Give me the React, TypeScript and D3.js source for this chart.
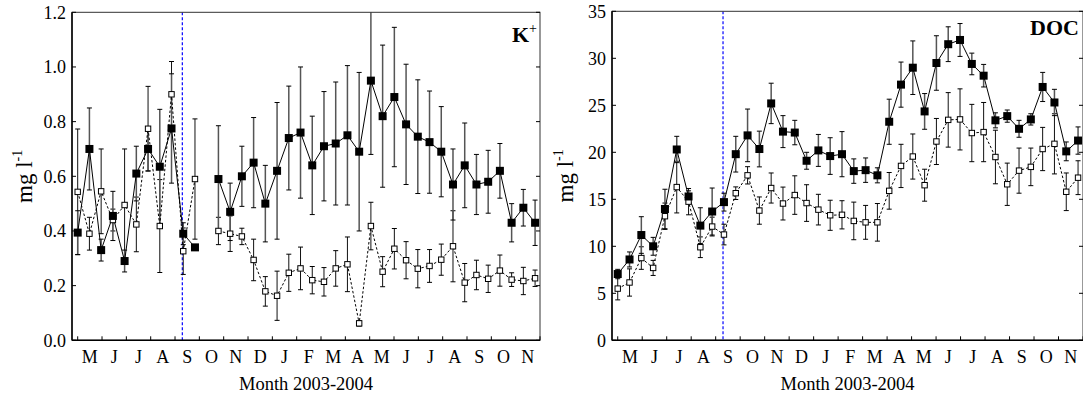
import React from "react";
import * as d3 from "d3";

// month labels, May 2003 .. Nov 2004
const months = ["M", "J", "J", "A", "S", "O", "N", "D", "J", "F", "M", "A", "M", "J", "J", "A", "S", "O", "N"];
const sampleStep = 0.482; // months between two samplings
const splitMonth = 4.3; // dashed blue line

// K+ (mg l-1), null = not sampled
const kFilled = [0.394, 0.7, 0.33, 0.455, 0.29, 0.61, 0.7, 0.635, 0.775, 0.39, 0.34, null, 0.59, 0.47, 0.6, 0.65, 0.5, 0.62, 0.74, 0.76,
  0.64, 0.71, 0.72, 0.75, 0.69, 0.95, 0.82, 0.89, 0.79, 0.745, 0.725, 0.69, 0.57, 0.64, 0.57, 0.58, 0.62, 0.43, 0.485, 0.43];
const kFilledSd = [0.08, 0.15, 0.04, 0.09, 0.04, 0.1, 0.08, 0.21, 0.2, 0.04, 0, null, 0.195, 0.105, 0.11, 0.165, 0.14, 0.25, 0.19, 0.24,
  0.18, 0.2, 0.225, 0.255, 0.29, 0.27, 0.26, 0.255, 0.22, 0.208, 0.187, 0.165, 0.13, 0.155, 0.11, 0.115, 0.1, 0.07, 0.067, 0.083];
const kOpen = [0.543, 0.39, 0.545, 0.44, 0.495, 0.424, 0.774, 0.418, 0.9, 0.326, 0.59, null, 0.4, 0.39, 0.38, 0.294, 0.179, 0.163, 0.247, 0.263,
  0.22, 0.214, 0.263, 0.278, 0.062, 0.418, 0.251, 0.335, 0.293, 0.262, 0.272, 0.295, 0.344, 0.211, 0.239, 0.225, 0.255, 0.222, 0.217, 0.227];
const kOpenSd = [0.23, 0.06, 0.155, 0.04, 0.205, 0.1, 0.155, 0.17, 0.12, 0.085, 0.22, null, 0.05, 0.065, 0.03, 0.076, 0.054, 0.09, 0.068, 0.078,
  0.05, 0.052, 0.065, 0.1, 0.01, 0.087, 0.055, 0.074, 0.068, 0.07, 0.06, 0.057, 0.13, 0.07, 0.054, 0.05, 0.057, 0.025, 0.05, 0.03];
const kTicks = [0, 0.2, 0.4, 0.6, 0.8, 1.0, 1.2];

// DOC (mg l-1)
const docFilled = [7.05, 8.6, 11.2, 10.0, 13.97, 20.3, 15.3, 12.2, 13.7, 14.7, 19.8, 21.8, 20.35, 25.2, 22.2, 22.1, 19.1, 20.2, 19.6, 19.8,
  18.0, 18.1, 17.55, 23.25, 27.2, 29.0, 24.35, 29.5, 31.5, 31.95, 29.4, 28.15, 23.4, 23.85, 22.5, 23.5, 26.95, 25.3, 20.1, 21.25];
const docFilledSd = [0.5, 0.8, 1.95, 0.95, 2.1, 1.4, 0.6, 1.9, 2.5, 0.95, 1.9, 2.8, 1.9, 2.15, 1.7, 1.3, 0.9, 1.7, 1.95, 2.4,
  1.3, 1.3, 0.8, 2.4, 2.4, 2.85, 1.9, 2.9, 1.85, 1.75, 1.15, 1.2, 0.8, 0.65, 0.9, 0.6, 1.55, 1.4, 1.0, 1.45];
const docOpen = [5.5, 6.15, 8.75, 7.7, 13.2, 16.3, 14.75, 9.9, 12.1, 11.25, 15.65, 17.55, 13.8, 16.2, 14.55, 15.45, 14.6, 13.9, 13.3, 13.35,
  12.7, 12.55, 12.55, 15.9, 18.55, 19.55, 16.5, 21.15, 23.45, 23.5, 22.05, 22.15, 19.5, 16.6, 18.05, 18.45, 20.35, 20.9, 15.8, 17.3];
const docOpenSd = [1.2, 1.45, 1.2, 0.8, 1.4, 2.75, 1.4, 1.1, 1.0, 1.1, 0.67, 0.92, 1.45, 1.6, 1.75, 2.05, 1.95, 1.63, 1.6, 1.5,
  2.0, 1.8, 2.0, 1.95, 2.3, 2.4, 1.7, 2.45, 2.9, 3.25, 3.05, 3.15, 2.85, 2.25, 2.4, 2.0, 2.3, 3.2, 2.0, 1.8];
const docTicks = [0, 5, 10, 15, 20, 25, 30, 35];

const font = "'Liberation Serif', 'Times New Roman', serif";

type Num = number | null;

const ErrorBars = ({ vals, sds, x, y, color, width }: any) => (
  <g stroke={color} strokeWidth={width}>
    {vals.map((v: Num, i: number) => {
      const sd = sds[i];
      if (v == null || !sd) return null;
      const cx = x(i * sampleStep);
      const hi = y(v + sd);
      const lo = y(v - sd);
      return (
        <g key={i}>
          <line x1={cx} x2={cx} y1={hi} y2={lo} />
          <line x1={cx - 2.5} x2={cx + 2.5} y1={hi} y2={hi} stroke="#000" strokeWidth={1} />
          <line x1={cx - 2.5} x2={cx + 2.5} y1={lo} y2={lo} stroke="#000" strokeWidth={1} />
        </g>
      );
    })}
  </g>
);

const Panel = ({ id, left, right, top, bottom, yMax, ticks, fmt, filled, filledSd, open, openSd, label, sup, labelX, labelY, titleX }: any) => {
  const x = d3.scaleLinear().domain([-0.234, 19]).range([left, right]);
  const y = d3.scaleLinear().domain([0, yMax]).range([bottom, top]);
  const line = d3
    .line<Num>()
    .defined((d) => d != null)
    .x((_, i) => x(i * sampleStep))
    .y((d) => y(d as number));
  const midX = (left + right) / 2;
  const midY = (top + bottom) / 2;

  return (
    <g fontFamily={font}>
      <clipPath id={id}>
        <rect x={left} y={top} width={right - left} height={bottom - top} />
      </clipPath>

      <g clipPath={`url(#${id})`}>
        <line x1={x(splitMonth)} x2={x(splitMonth)} y1={top} y2={bottom} stroke="#0000ff" strokeWidth={1.2} strokeDasharray="3,2" />
        <ErrorBars vals={open} sds={openSd} x={x} y={y} color="#111" width={1} />
        <ErrorBars vals={filled} sds={filledSd} x={x} y={y} color="#555" width={1.5} />
        <path d={line(open) || ""} fill="none" stroke="#000" strokeWidth={1} strokeDasharray="2.5,2" />
        <path d={line(filled) || ""} fill="none" stroke="#000" strokeWidth={1} />
        {open.map((v: Num, i: number) =>
          v == null ? null : (
            <rect key={"o" + i} x={x(i * sampleStep) - 2.7} y={y(v) - 2.7} width={5.4} height={5.4} fill="#fff" stroke="#000" strokeWidth={1} />
          )
        )}
        {filled.map((v: Num, i: number) =>
          v == null ? null : <rect key={"f" + i} x={x(i * sampleStep) - 4} y={y(v) - 4} width={8} height={8} fill="#000" />
        )}
      </g>

      {/* frame */}
      <rect x={left} y={top} width={right - left} height={bottom - top} fill="none" stroke="#333" strokeWidth={1} />
      <line x1={left} x2={left} y1={top} y2={bottom} stroke="#000" strokeWidth={1.5} />
      <line x1={left} x2={right} y1={bottom} y2={bottom} stroke="#000" strokeWidth={1.5} />

      {/* y axis */}
      {ticks.map((t: number) => (
        <g key={t}>
          <line x1={left} x2={left + 4} y1={y(t)} y2={y(t)} stroke="#000" />
          <line x1={right} x2={right - 4} y1={y(t)} y2={y(t)} stroke="#000" />
          <text x={left - 6} y={y(t)} dy="0.35em" textAnchor="end" fontSize={18}>
            {fmt(t)}
          </text>
        </g>
      ))}

      {/* x axis */}
      {d3.range(0, 20).map((k) => (
        <line key={k} x1={x(k)} x2={x(k)} y1={bottom} y2={bottom - 4} stroke="#000" />
      ))}
      {months.map((m, k) => (
        <text key={k} x={x(k + 0.5)} y={363} textAnchor="middle" fontSize={18}>
          {m}
        </text>
      ))}
      <text x={midX} y={390} textAnchor="middle" fontSize={18.5}>
        Month 2003-2004
      </text>
      <text transform={`translate(${titleX},${midY}) rotate(-90)`} textAnchor="middle" fontSize={23}>
        mg l<tspan fontSize={14} dy={-10}>-1</tspan>
      </text>

      <text x={labelX} y={labelY} textAnchor="end" fontSize={22} fontWeight="bold">
        {label}
        {sup ? (
          <tspan fontSize={14} fontWeight="normal" dy={-9}>
            {sup}
          </tspan>
        ) : null}
      </text>
    </g>
  );
};

export default function App() {
  return (
    <svg width={1083} height={398} style={{ position: "absolute", left: 0, top: 0, background: "#fff" }}>
      <rect width={1083} height={398} fill="#fff" />
      <Panel
        id="clipK"
        left={72}
        right={540}
        top={12.3}
        bottom={340.3}
        yMax={1.2}
        ticks={kTicks}
        fmt={d3.format(".1f")}
        filled={kFilled}
        filledSd={kFilledSd}
        open={kOpen}
        openSd={kOpenSd}
        label="K"
        sup="+"
        labelX={537}
        labelY={42}
        titleX={32}
      />
      <Panel
        id="clipDoc"
        left={612}
        right={1083}
        top={11.3}
        bottom={340.3}
        yMax={35}
        ticks={docTicks}
        fmt={d3.format("d")}
        filled={docFilled}
        filledSd={docFilledSd}
        open={docOpen}
        openSd={docOpenSd}
        label="DOC"
        sup=""
        labelX={1079}
        labelY={35}
        titleX={573}
      />
    </svg>
  );
}
